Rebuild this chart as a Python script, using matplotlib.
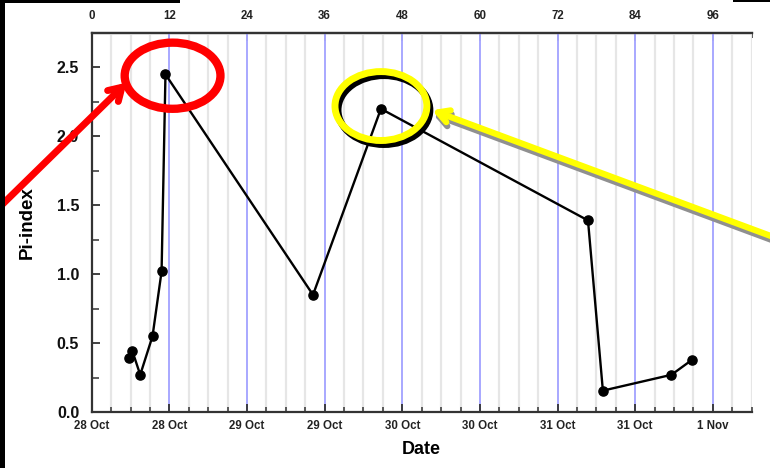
import matplotlib
matplotlib.use("Agg")
import matplotlib.pyplot as plt
import matplotlib.transforms as mtransforms
from matplotlib.patches import Ellipse, Rectangle
from matplotlib.ticker import MultipleLocator, FixedLocator

plt.rcParams['font.family'] = ['Liberation Sans', 'DejaVu Sans']

# Pi-index series: elapsed hours since 28 Oct 00:00 and index value
hours = [5.8, 6.3, 7.5, 9.4, 10.8, 11.4, 34.2, 44.7, 76.7, 79.0, 89.6, 92.7]
pi_index = [0.39, 0.44, 0.27, 0.55, 1.02, 2.45, 0.85, 2.20, 1.39, 0.155, 0.27, 0.376]

hour_ticks = [0, 12, 24, 36, 48, 60, 72, 84, 96]
date_labels = ["28 Oct", "28 Oct", "29 Oct", "29 Oct", "30 Oct",
               "30 Oct", "31 Oct", "31 Oct", "1 Nov"]
y_ticks = [0.0, 0.5, 1.0, 1.5, 2.0, 2.5]

W, H = 770, 468
fig = plt.figure(figsize=(W / 100, H / 100), dpi=100)
ax = fig.add_axes([91.7 / W, 1 - 412 / H, (751.7 - 91.7) / W, (412 - 33) / H])

ax.set_xlim(0, 102)
ax.set_ylim(0, 2.75)

# vertical grid: light grey every 3 h, blue every 12 h
ax.xaxis.set_major_locator(FixedLocator(hour_ticks))
ax.xaxis.set_minor_locator(MultipleLocator(3))
ax.grid(which='minor', axis='x', color='#e6e6e6', lw=1.6, zorder=0)
ax.grid(which='major', axis='x', color='#a8a8ff', lw=1.4, zorder=0)
ax.set_axisbelow(True)

ax.plot(hours, pi_index, color='black', lw=1.7, marker='o', ms=6.6,
        zorder=3, clip_on=False)

ax.set_xticks(hour_ticks)
ax.set_xticklabels(date_labels, fontsize=8.3, fontweight='bold', color='#222222')
ax.set_yticks(y_ticks)
ax.set_yticklabels([f"{v:.1f}" for v in y_ticks], fontsize=11.5,
                   fontweight='bold', color='#111111')
ax.yaxis.set_minor_locator(MultipleLocator(0.25))

ax.tick_params(axis='x', which='major', direction='in', length=6, width=1.3,
               color='#333333', pad=6, bottom=True, top=False)
ax.tick_params(axis='x', which='minor', direction='in', length=3.5, width=1.1,
               color='#333333', bottom=True, top=False)
ax.tick_params(axis='y', which='major', direction='in', length=6, width=1.3,
               color='#333333', pad=9)
ax.tick_params(axis='y', which='minor', direction='in', length=5, width=1.1,
               color='#333333')

for side in ('left', 'bottom', 'top'):
    ax.spines[side].set_linewidth(1.6)
    ax.spines[side].set_color('#333333')
ax.spines['right'].set_visible(False)

top = ax.secondary_xaxis('top')
top.set_xticks(hour_ticks)
top.set_xticklabels([str(h) for h in hour_ticks], fontsize=8.3, fontweight='bold',
                    color='#222222')
top.xaxis.set_minor_locator(MultipleLocator(3))
top.tick_params(which='major', direction='in', length=6, width=1.3,
                color='#333333', pad=8)
top.tick_params(which='minor', direction='in', length=3.5, width=1.1,
                color='#333333')
top.spines['top'].set_linewidth(1.6)
top.spines['top'].set_color('#333333')

ax.set_xlabel("Date", fontsize=13, fontweight='bold', labelpad=6, x=0.5)
ax.set_ylabel("Pi-index", fontsize=13.5, fontweight='bold', labelpad=15)

# highlight the peak values
i_max = pi_index.index(max(pi_index))
red_ring = Ellipse((hours[i_max] + 1.1, pi_index[i_max] - 0.01), 14.8, 0.48,
                   fill=False, ec='#ff0000', lw=6, zorder=5, clip_on=False)
ax.add_patch(red_ring)
ax.annotate("", xy=(hours[i_max] - 6.0, pi_index[i_max] - 0.06),
            xytext=(-14.6, 1.47),
            arrowprops=dict(arrowstyle="->,head_length=0.9,head_width=0.55",
                            color='#ff0000', lw=5, shrinkA=0, shrinkB=0),
            annotation_clip=False, zorder=5)

i_second = 7
shadow = mtransforms.offset_copy(ax.transData, fig, x=3, y=-4, units='dots')
ax.add_patch(Ellipse((hours[i_second], pi_index[i_second] + 0.02), 14.2, 0.50,
                     fill=False, ec='black', lw=5, zorder=5, clip_on=False,
                     transform=shadow))
ax.add_patch(Ellipse((hours[i_second], pi_index[i_second] + 0.02), 14.2, 0.50,
                     fill=False, ec='#ffff00', lw=5, zorder=6, clip_on=False))

arrow_shadow = mtransforms.offset_copy(ax.transData, fig, x=1, y=-4, units='dots')
for col, tr, z in (('#909090', arrow_shadow, 6), ('#ffff00', ax.transData, 7)):
    ax.annotate("", xy=(hours[i_second] + 7.9, pi_index[i_second] - 0.01),
                xytext=(106.5, 1.25),
                xycoords=tr, textcoords=tr,
                arrowprops=dict(arrowstyle="->,head_length=0.8,head_width=0.45",
                                color=col, lw=4.5, shrinkA=0, shrinkB=0),
                annotation_clip=False, zorder=z)

# black framing strips along the edges of the image
for x0, y0, w, h in ((0, 0, 5, H), (0, 0, 180, 3), (733, 0, 37, 2)):
    fig.add_artist(Rectangle((x0 / W, 1 - (y0 + h) / H), w / W, h / H,
                             transform=fig.transFigure, color='black', lw=0))

fig.savefig("out.png", dpi=100)
